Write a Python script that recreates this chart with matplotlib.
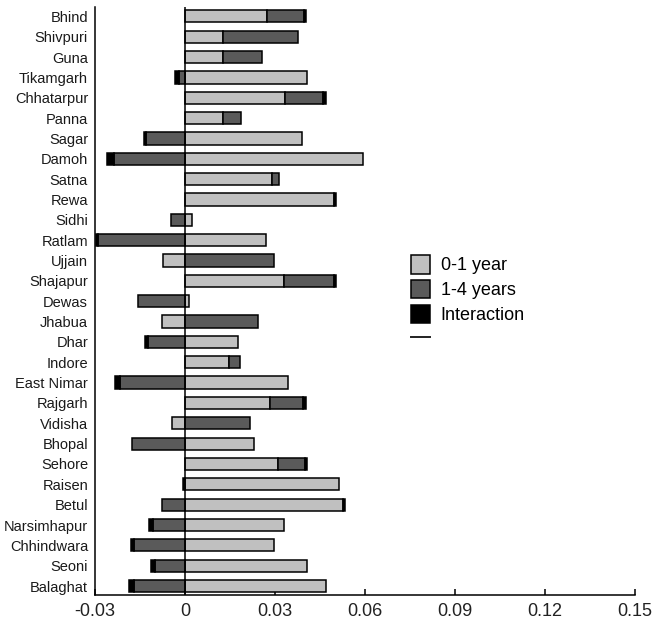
import numpy as np
import matplotlib
matplotlib.use("Agg")
import matplotlib.pyplot as plt
from matplotlib.patches import Patch
from matplotlib.lines import Line2D

plt.rcParams['font.family'] = ['Liberation Sans', 'DejaVu Sans']

districts = ["Bhind", "Shivpuri", "Guna", "Tikamgarh", "Chhatarpur", "Panna",
             "Sagar", "Damoh", "Satna", "Rewa", "Sidhi", "Ratlam", "Ujjain",
             "Shajapur", "Dewas", "Jhabua", "Dhar", "Indore", "East Nimar",
             "Rajgarh", "Vidisha", "Bhopal", "Sehore", "Raisen", "Betul",
             "Narsimhapur", "Chhindwara", "Seoni", "Balaghat"]

age_0_1 = [0.0273, 0.0127, 0.0127, 0.0407, 0.0334, 0.0127,
           0.0390, 0.0592, 0.0290, 0.0497, 0.0022, 0.0270, -0.0073,
           0.0329, 0.0013, -0.0078, 0.0176, 0.0148, 0.0342,
           0.0282, -0.0044, 0.0229, 0.0309, 0.0514, 0.0528,
           0.0329, 0.0296, 0.0407, 0.0470]

age_1_4 = [0.0125, 0.0249, 0.0129, -0.0020, 0.0125, 0.0060,
           -0.0130, -0.0238, 0.0023, 0.0, -0.0047, -0.0291, 0.0296,
           0.0167, -0.0158, 0.0242, -0.0124, 0.0034, -0.0217,
           0.0112, 0.0216, -0.0178, 0.0091, 0.0, -0.0078,
           -0.0108, -0.0169, -0.0100, -0.0169]

interaction = [0.0006, 0.0, 0.0, -0.0013, 0.0010, 0.0,
               -0.0008, -0.0022, 0.0, 0.0006, 0.0, -0.0007, 0.0,
               0.0007, 0.0, 0.0, -0.0009, 0.0, -0.0016,
               0.0009, 0.0, 0.0, 0.0005, -0.0008, 0.0005,
               -0.0011, -0.0011, -0.0013, -0.0017]

components = [("0-1 year", age_0_1, "#c0c0c0"),
              ("1-4 years", age_1_4, "#5a5a5a"),
              ("Interaction", interaction, "#000000")]

xticks = [-0.03, 0, 0.03, 0.06, 0.09, 0.12, 0.15]
xtick_labels = ["-0.03", "0", "0.03", "0.06", "0.09", "0.12", "0.15"]

fig = plt.figure(figsize=(6.52, 6.24), dpi=100)
ax = fig.add_axes([95 / 652, 1 - 595 / 624, 540 / 652, 588 / 624])

n = len(districts)
ypos = np.arange(n)[::-1]
pos_base = np.zeros(n)
neg_base = np.zeros(n)

# stack positive and negative parts separately, outward from zero
for label, vals, color in components:
    vals = np.asarray(vals)
    left = np.where(vals >= 0, pos_base, neg_base)
    keep = vals != 0
    ax.barh(ypos[keep], vals[keep], left=left[keep], height=0.6,
            color=color, edgecolor="black", linewidth=1.1, zorder=2)
    pos_base = pos_base + np.where(vals > 0, vals, 0)
    neg_base = neg_base + np.where(vals < 0, vals, 0)

ax.axvline(0, color="black", linewidth=1.1, zorder=3)

ax.set_xlim(-0.03, 0.15)
ax.set_ylim(-0.44, n - 1 + 0.46)
ax.set_xticks(xticks)
ax.set_xticklabels(xtick_labels, fontsize=13, color="#222222")
ax.set_yticks(ypos)
ax.set_yticklabels(districts, fontsize=10.5, color="#1a1a1a")
ax.tick_params(axis="x", direction="in", length=4, width=1.1, pad=6)
ax.tick_params(axis="y", length=0, pad=5)

for side in ("top", "right"):
    ax.spines[side].set_visible(False)
for side in ("left", "bottom"):
    ax.spines[side].set_linewidth(1.1)

handles = [Patch(facecolor=c, edgecolor="black", linewidth=1.1, label=l)
           for l, _, c in components]
handles.append(Line2D([], [], color="#222222", linewidth=1.4, label=" "))
ax.legend(handles=handles, loc="upper left", bbox_to_anchor=(0.585, 0.578),
          frameon=False, fontsize=13, handlelength=1.05, handleheight=1.2,
          labelspacing=0.3, handletextpad=0.6, borderpad=0, borderaxespad=0)

fig.savefig("out.png", dpi=100)
